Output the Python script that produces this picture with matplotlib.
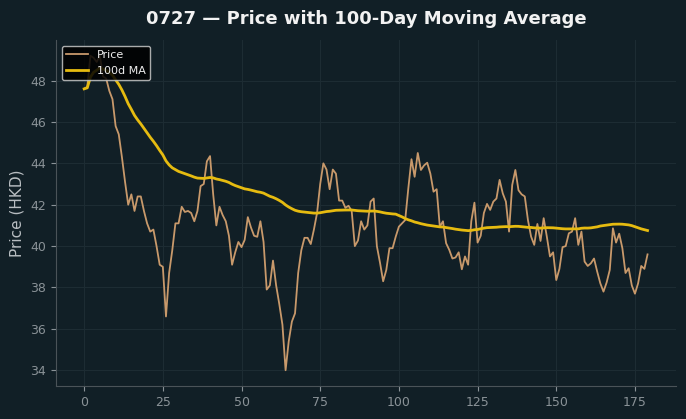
import numpy as np
import pandas as pd
import matplotlib
matplotlib.use("Agg")
import matplotlib.pyplot as plt

# daily closing prices (HKD)
price = [
    47.6, 47.7, 49.2, 49.1, 48.9, 49.2, 48.2, 48.1, 47.5, 47.1,
    45.8, 45.4, 44.3, 43.1, 42.0, 42.5, 41.7, 42.4, 42.4, 41.7,
    41.1, 40.7, 40.8, 40.0, 39.1, 39.0, 36.6, 38.7, 39.8, 41.1,
    41.1, 41.9, 41.65, 41.7, 41.6, 41.2, 41.7, 42.9, 43.0, 44.1,
    44.35, 42.5, 41.0, 41.9, 41.5, 41.2, 40.5, 39.1, 39.7, 40.2,
    39.95, 40.3, 41.4, 40.9, 40.5, 40.45, 41.2, 40.2, 37.9, 38.1,
    39.3, 38.1, 37.2, 36.2, 34.0, 35.4, 36.35, 36.75, 38.7, 39.8,
    40.4, 40.4, 40.1, 40.8, 41.6, 43.0, 44.0, 43.7, 42.75, 43.7,
    43.5, 42.2, 42.2, 41.85, 41.95, 41.7, 40.0, 40.27, 41.2, 40.8,
    41.0, 42.15, 42.3, 40.0, 39.2, 38.3, 38.85, 39.9, 39.9, 40.46,
    40.94, 41.1, 41.26, 42.8, 44.2, 43.35, 44.5, 43.68, 43.9, 44.03,
    43.5, 42.63, 42.75, 40.94, 41.2, 40.14, 39.82, 39.4, 39.45, 39.7,
    38.88, 39.5, 39.1, 41.2, 42.1, 40.17, 40.5, 41.6, 42.04, 41.75,
    42.15, 42.3, 43.2, 42.55, 42.15, 40.7, 42.95, 43.68, 42.7, 42.5,
    42.4, 41.26, 40.46, 40.06, 41.07, 40.25, 41.35, 40.46, 39.5, 39.7,
    38.36, 38.9, 39.95, 40.0, 40.62, 40.7, 41.35, 40.06, 40.7, 39.25,
    39.04, 39.17, 39.4, 38.77, 38.2, 37.8, 38.24, 38.85, 40.86, 40.17,
    40.6, 39.9, 38.7, 38.93, 38.1, 37.7, 38.2, 39.04, 38.9, 39.6,
]
ticker = "0727"
window = 100

df = pd.DataFrame({"price": price})
df["ma"] = df["price"].rolling(window, min_periods=1).mean()

bg = "#111f26"
fig = plt.figure(figsize=(6.86, 4.19), dpi=100, facecolor=bg)
ax = fig.add_axes([0.0816, 0.0788, 0.9034, 0.8257])
ax.set_facecolor(bg)

ax.plot(df.index, df["price"], color="#c8996b", lw=1.3, label="Price")
ax.plot(df.index, df["ma"], color="#e6bb10", lw=2.0, label=f"{window}d MA")

ax.set_title(f"{ticker} \u2014 Price with 100-Day Moving Average",
             color="#f2f2f2", fontsize=13, fontweight="bold", pad=11.5)
ax.set_ylabel("Price (HKD)", color="#b9bec2", fontsize=11)

ax.grid(True, color="#1d2c33", lw=0.8)
for s in ["top", "right"]:
    ax.spines[s].set_visible(False)
for s in ["left", "bottom"]:
    ax.spines[s].set_color("#4a5358")
ax.tick_params(colors="#8a9297", labelsize=9)
ax.set_yticks(np.arange(34, 49, 2))

leg = ax.legend(loc="upper left", fontsize=8, facecolor="black",
                edgecolor="#c8c8c8", framealpha=0.85)
for t in leg.get_texts():
    t.set_color("#eeeeee")

fig.savefig("out.png", dpi=100, facecolor=bg)
